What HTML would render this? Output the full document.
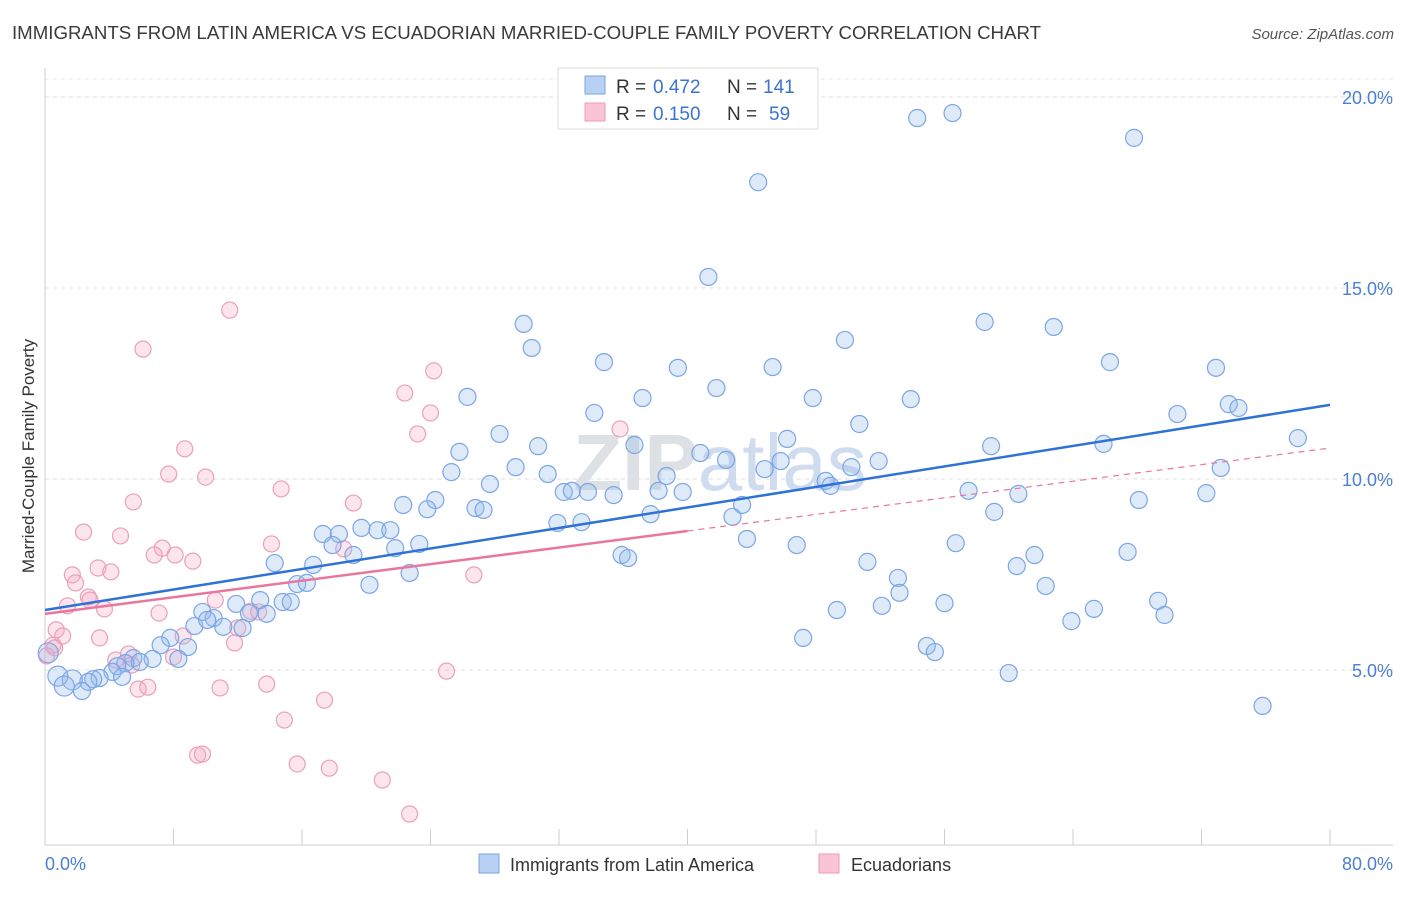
<!DOCTYPE html>
<html><head><meta charset="utf-8">
<style>
body{margin:0;background:#fff;font-family:"Liberation Sans",sans-serif;}
svg text{font-family:"Liberation Sans",sans-serif;}
</style></head>
<body>
<svg id="chart" width="1406" height="892" viewBox="0 0 1406 892" xmlns="http://www.w3.org/2000/svg">
<text x="12" y="39" font-size="18" fill="#3a3a3a" textLength="1029" lengthAdjust="spacingAndGlyphs">IMMIGRANTS FROM LATIN AMERICA VS ECUADORIAN MARRIED-COUPLE FAMILY POVERTY CORRELATION CHART</text>
<text x="1394" y="39" font-size="15" fill="#555" font-style="italic" text-anchor="end">Source: ZipAtlas.com</text>
<g id="grid"></g>
<text x="720" y="490" font-size="80" fill="#e3e8f0" text-anchor="middle" font-family="Liberation Serif"><tspan font-weight="bold" fill="#dde0e4">ZIP</tspan><tspan fill="#cfdcf0">atlas</tspan></text>
<g id="points"></g>
<g id="lines"></g>
<text transform="translate(34,456) rotate(-90)" font-size="17" fill="#333" text-anchor="middle">Married-Couple Family Poverty</text>
<text x="45" y="870" font-size="18" fill="#4a7fd4">0.0%</text>
<text x="1393" y="870" font-size="18" fill="#4a7fd4" text-anchor="end">80.0%</text>
<g>
<rect x="558" y="68" width="260" height="61" fill="#fff" stroke="#ddd"/>
<rect x="585" y="76" width="20" height="18" fill="#b7d0f3" stroke="#7aa6e6"/>
<rect x="585" y="103" width="20" height="18" fill="#f9c5d6" stroke="#ea9ab6"/>
<text x="616" y="93" font-size="19" fill="#333">R =</text>
<text x="653" y="93" font-size="19" fill="#3a74d0">0.472</text>
<text x="727" y="93" font-size="19" fill="#333">N =</text>
<text x="763" y="93" font-size="19" fill="#3a74d0">141</text>
<text x="616" y="120" font-size="19" fill="#333">R =</text>
<text x="653" y="120" font-size="19" fill="#3a74d0">0.150</text>
<text x="727" y="120" font-size="19" fill="#333">N =</text>
<text x="769" y="120" font-size="19" fill="#3a74d0">59</text>
</g>
<g>
<rect x="479" y="854" width="20" height="19" fill="#b7d0f3" stroke="#7aa6e6"/>
<text x="510" y="871" font-size="18" fill="#333">Immigrants from Latin America</text>
<rect x="819" y="854" width="20" height="19" fill="#f9c5d6" stroke="#ea9ab6"/>
<text x="851" y="871" font-size="18" fill="#333">Ecuadorians</text>
</g>
</svg>
<script>
const yTicks=[5,10,15,20];
const yTickLabels=["5.0%","10.0%","15.0%","20.0%"];
const xTicks=[0,8,16,24,32,40,48,56,64,72,80];
const blueX=[54.3,56.5,67.8,44.4,41.3,58.5,62.8,29.8,30.3,49.8,34.8,39.4,45.3,66.3,72.9,41.8,26.3,37.2,47.8,53.9,73.7,74.3,34.2,70.5,50.7,28.3,46.2,78.0,25.8,30.7,36.7,58.9,65.9,40.8,42.4,25.3,29.3,31.3,44.8,45.8,50.2,51.9,73.2,27.7,38.7,48.6,48.9,32.3,32.8,33.8,35.4,38.2,39.7,57.5,60.6,68.1,72.3,24.3,22.3,23.8,26.8,27.3,43.4,37.7,42.8,59.1,17.3,18.3,19.7,20.7,21.5,33.4,31.9,43.7,17.9,21.8,23.3,46.8,56.7,19.2,35.9,36.3,67.4,14.3,16.7,61.6,60.5,51.2,22.7,20.2,15.7,16.3,53.1,62.3,53.2,13.4,14.8,15.3,11.9,9.8,10.5,69.3,56.0,52.1,49.3,65.3,69.7,12.7,13.8,9.3,11.1,12.3,63.9,47.2,7.8,7.2,8.9,54.9,55.4,5.5,6.7,8.3,5.9,5.0,4.5,4.2,3.4,3.0,2.7,4.8,1.7,0.8,1.2,2.3,60.0,75.8,0.2,10.1];
const blueY=[19.45,19.58,18.93,17.77,15.29,14.11,13.98,14.06,13.43,13.64,13.06,12.91,12.93,13.06,12.91,12.38,12.15,12.12,12.12,12.09,11.96,11.86,11.73,11.70,11.44,11.18,11.05,11.07,10.71,10.86,10.89,10.86,10.92,10.68,10.50,10.18,10.31,10.13,10.26,10.47,10.31,10.47,10.29,9.87,10.08,9.95,9.82,9.66,9.69,9.66,9.58,9.69,9.66,9.69,9.61,9.45,9.63,9.45,9.32,9.21,9.24,9.19,9.32,9.08,9.01,9.14,8.56,8.56,8.72,8.66,8.66,8.87,8.85,8.43,8.27,8.19,8.30,8.27,8.32,8.01,8.01,7.93,8.09,7.80,7.75,8.01,7.72,7.83,7.54,7.23,7.25,7.28,7.41,7.20,7.02,6.83,6.78,6.78,6.73,6.52,6.36,6.81,6.75,6.68,6.57,6.60,6.44,6.49,6.47,6.15,6.13,6.10,6.28,5.84,5.84,5.65,5.60,5.63,5.47,5.31,5.29,5.29,5.21,5.18,5.10,4.95,4.79,4.76,4.69,4.82,4.74,4.84,4.58,4.45,4.92,4.06,5.45,6.31];
const pinkX=[11.5,6.1,24.2,22.4,24.0,23.2,35.8,8.7,7.7,10.0,14.7,5.5,19.2,2.4,4.7,14.1,7.3,6.8,8.1,9.2,3.3,4.1,1.7,1.9,18.6,26.7,2.7,2.8,3.7,1.4,7.1,10.6,12.8,13.3,12.0,0.7,1.1,3.4,8.6,0.5,0.6,0.1,5.2,4.4,8.0,11.8,5.4,25.0,10.9,5.8,6.4,13.8,17.4,14.9,9.5,9.8,15.7,17.7,21.0,22.7];
const pinkY=[14.42,13.40,12.83,12.25,11.73,11.18,11.31,10.79,10.13,10.05,9.74,9.40,9.37,8.61,8.51,8.30,8.19,8.01,8.01,7.85,7.67,7.57,7.49,7.28,8.17,7.49,6.91,6.83,6.60,6.68,6.49,6.83,6.54,6.52,6.10,6.05,5.89,5.84,5.89,5.65,5.58,5.37,5.42,5.26,5.34,5.71,5.13,4.97,4.53,4.50,4.55,4.63,4.21,3.69,2.77,2.80,2.54,2.43,2.12,1.23];
const blueTrend=[6.57,11.94];
const pinkTrend=[6.47,10.81];
const pinkSolidEnd=40;

const NS="http://www.w3.org/2000/svg";
const X=v=>45+v*(1285/80);
const Y=v=>861-v*38.2;
function mk(tag,attrs,parent){const e=document.createElementNS(NS,tag);for(const k in attrs)e.setAttribute(k,attrs[k]);parent.appendChild(e);return e;}
const grid=document.getElementById('grid');
yTicks.forEach((t,i)=>{
  const l=mk('line',{x1:45,x2:1393,y1:Y(t),y2:Y(t),stroke:'#dcdcdc','stroke-dasharray':'4,4'},grid);
  
  
  const tx=mk('text',{x:1393,y:Y(t)+7,'font-size':18,fill:'#4a7fd4','text-anchor':'end'},grid);
  tx.textContent=yTickLabels[i];
  
  
});
const tl=mk('line',{x1:45,x2:1393,y1:79,y2:79,stroke:'#e4e4e4','stroke-dasharray':'4,4'},grid);


const ya=mk('line',{x1:45,x2:45,y1:68,y2:845,stroke:'#cfcfcf'},grid);


const xa=mk('line',{x1:45,x2:1393,y1:845,y2:845,stroke:'#cfcfcf'},grid);


xTicks.forEach(t=>{
  const l=mk('line',{x1:X(t),x2:X(t),y1:829,y2:845,stroke:'#cfcfcf'},grid);
  
  
});
const pts=document.getElementById('points');
pinkX.forEach((x,i)=>{
  const c=mk('circle',{cx:X(x),cy:Y(pinkY[i]),r:8,fill:'rgba(245,170,195,0.3)',stroke:'#eaa0bb','stroke-width':1.2},pts);
  
  
});
blueX.forEach((x,i)=>{
  const r=(x<2&&blueY[i]<5.6)?10:8.5;
  const c=mk('circle',{cx:X(x),cy:Y(blueY[i]),r:r,fill:'rgba(150,185,235,0.3)',stroke:'#7aa6e6','stroke-width':1.2},pts);
  
  
});
const lines=document.getElementById('lines');
const pinkAt=v=>pinkTrend[0]+(pinkTrend[1]-pinkTrend[0])*v/80;
const pd=mk('line',{x1:X(pinkSolidEnd),y1:Y(pinkAt(pinkSolidEnd)),x2:X(80),y2:Y(pinkTrend[1]),stroke:'#e8769d','stroke-width':1.2,'stroke-dasharray':'6,5'},lines);


const ps=mk('line',{x1:X(0),y1:Y(pinkTrend[0]),x2:X(pinkSolidEnd),y2:Y(pinkAt(pinkSolidEnd)),stroke:'#e8769d','stroke-width':2.5},lines);


const bl=mk('line',{x1:X(0),y1:Y(blueTrend[0]),x2:X(80),y2:Y(blueTrend[1]),stroke:'#2f72d6','stroke-width':2.5},lines);


</script>
</body></html>
